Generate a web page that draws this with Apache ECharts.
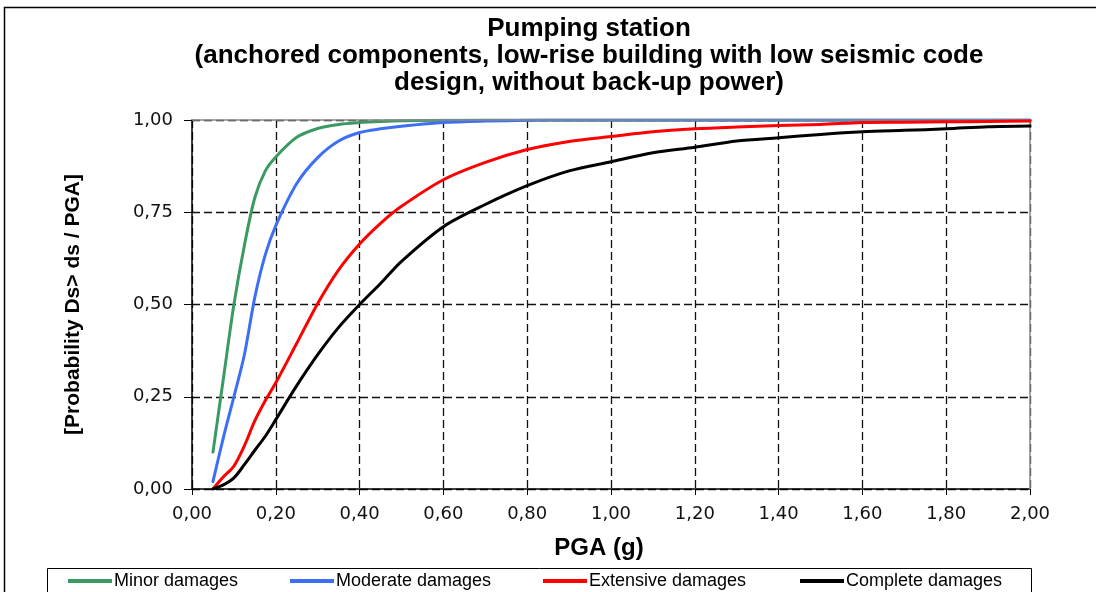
<!DOCTYPE html>
<html>
<head>
<meta charset="utf-8">
<script src="https://cdn.jsdelivr.net/npm/echarts@6/dist/echarts.min.js"></script>
<style>
  html, body { margin: 0; padding: 0; background: #fff; }
  #chart { width: 1096px; height: 592px; }
</style>
</head>
<body>
<div id="chart"></div>
<script>
// ---- data ----
const titleLines = [
  'Pumping station',
  '(anchored components, low-rise building with low seismic code',
  'design, without back-up power)'
];
const xAxisName = 'PGA (g)';
const yAxisName = '[Probability Ds> ds / PGA]';
const seriesNames = ['Minor damages', 'Moderate damages', 'Extensive damages', 'Complete damages'];
const pga = [0.05, 0.075, 0.1, 0.125, 0.15, 0.175, 0.2, 0.25, 0.3, 0.35, 0.4, 0.45, 0.5,
             0.6, 0.7, 0.8, 0.9, 1.0, 1.1, 1.2, 1.3, 1.4, 1.5, 1.6, 1.7, 1.8, 1.9, 2.0];
const minor = [0.10, 0.30, 0.50, 0.66, 0.79, 0.862, 0.90, 0.953, 0.977, 0.988, 0.993, 0.996, 0.998,
               0.999, 1.0, 1.0, 1.0, 1.0, 1.0, 1.0, 1.0, 1.0, 1.0, 1.0, 1.0, 1.0, 1.0, 1.0];
const moderate = [0.02, 0.14, 0.25, 0.364, 0.52, 0.635, 0.714, 0.828, 0.898, 0.943, 0.966, 0.976, 0.983,
                  0.993, 0.997, 0.999, 1.0, 1.0, 1.0, 1.0, 1.0, 1.0, 1.0, 1.0, 1.0, 1.0, 1.0, 1.0];
const extensive = [0.0, 0.033, 0.062, 0.117, 0.185, 0.24, 0.288, 0.395, 0.503, 0.594, 0.664, 0.72, 0.766,
                   0.838, 0.885, 0.92, 0.942, 0.955, 0.968, 0.976, 0.981, 0.985, 0.988, 0.993, 0.994, 0.995, 0.996, 0.997];
const complete = [0.0, 0.011, 0.03, 0.066, 0.105, 0.143, 0.188, 0.28, 0.364, 0.438, 0.50, 0.557, 0.617,
                  0.711, 0.771, 0.822, 0.862, 0.887, 0.911, 0.926, 0.943, 0.952, 0.961, 0.968, 0.972, 0.976, 0.982, 0.984];
const xTicks = { min: 0, max: 2, interval: 0.2 };
const yTicks = { min: 0, max: 1, interval: 0.25 };

// ---- styling ----
const colors = ['#3a9a62', '#3d6ff5', '#ff0000', '#000000'];
const seriesValues = [minor, moderate, extensive, complete];
const legendLefts = [68, 290, 543, 800];
const comma = v => v.toFixed(2).replace('.', ',');

const chart = echarts.init(document.getElementById('chart'), null, { renderer: 'canvas' });

const series = seriesNames.map((name, i) => ({
  name,
  type: 'line',
  data: pga.map((x, k) => [x, seriesValues[i][k]]),
  showSymbol: false,
  smooth: 0.3,
  lineStyle: { color: colors[i], width: 3, join: 'round', cap: 'round' },
  itemStyle: { color: colors[i] },
  z: 3 + i,
  animation: false
}));

// gray solid border on top and right of plot area
series.push({
  type: 'line',
  data: [],
  silent: true,
  animation: false,
  z: 2,
  markLine: {
    silent: true,
    symbol: 'none',
    label: { show: false },
    animation: false,
    lineStyle: { color: '#8a8a8a', type: 'solid', width: 1.5 },
    data: [{ yAxis: yTicks.max }, { xAxis: xTicks.max }]
  }
});

const legends = seriesNames.map((name, i) => ({
  data: [name],
  left: legendLefts[i],
  top: 572,
  padding: 0,
  itemWidth: 44,
  itemHeight: 4,
  icon: 'rect',
  selectedMode: false,
  textStyle: { fontFamily: 'Liberation Sans', fontSize: 18, color: '#000', padding: [0, 0, 0, -3] }
}));

chart.setOption({
  animation: false,
  backgroundColor: '#fff',
  title: {
    text: titleLines.join('\n'),
    left: 589,
    top: 15,
    textAlign: 'center',
    padding: 0,
    textStyle: { fontFamily: 'Liberation Sans', fontWeight: 'bold', fontSize: 26, lineHeight: 27, color: '#000' }
  },
  legend: legends,
  grid: { left: 192, top: 120, right: 66, bottom: 103, containLabel: false },
  xAxis: {
    type: 'value',
    min: xTicks.min, max: xTicks.max, interval: xTicks.interval,
    name: xAxisName,
    nameLocation: 'middle',
    nameGap: 47,
    nameTextStyle: { fontFamily: 'Liberation Sans', fontWeight: 'bold', fontSize: 24, color: '#000', padding: [0, 24, 0, 0] },
    axisLine: { show: true, lineStyle: { color: '#000', width: 1.5 } },
    axisTick: { show: true, length: 6, lineStyle: { color: '#000', width: 1 } },
    axisLabel: { formatter: comma, margin: 16, fontFamily: 'DejaVu Sans', fontSize: 18, color: '#111' },
    splitLine: { show: true, lineStyle: { color: '#111', type: [8, 4], width: 1.3 } }
  },
  yAxis: {
    type: 'value',
    min: yTicks.min, max: yTicks.max, interval: yTicks.interval,
    name: yAxisName,
    nameLocation: 'middle',
    nameRotate: 90,
    nameGap: 108,
    nameTextStyle: { fontFamily: 'Liberation Sans', fontWeight: 'bold', fontSize: 21, color: '#000' },
    axisLine: { show: true, lineStyle: { color: '#000', width: 1.5 } },
    axisTick: { show: true, length: 8, lineStyle: { color: '#000', width: 1 } },
    axisLabel: { formatter: comma, margin: 19, fontFamily: 'DejaVu Sans', fontSize: 18, color: '#111' },
    splitLine: { show: true, lineStyle: { color: '#111', type: [8, 4], width: 1.3 } }
  },
  graphic: [
    { type: 'rect', shape: { x: 4.5, y: 7.5, width: 1200, height: 700 }, style: { fill: 'none', stroke: '#000', lineWidth: 1.5 }, silent: true, z: -1 },
    { type: 'rect', shape: { x: 47.5, y: 568.5, width: 984, height: 60 }, style: { fill: 'none', stroke: '#000', lineWidth: 1 }, silent: true, z: -1 }
  ],
  series
});
</script>
</body>
</html>
